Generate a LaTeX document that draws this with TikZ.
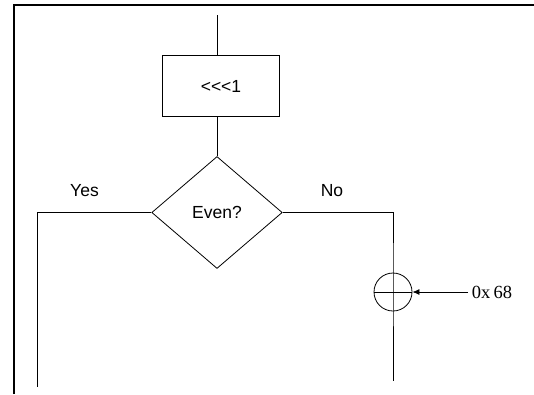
\documentclass[tikz,border=0pt]{standalone}
\usepackage{fontspec}
\setmainfont{Liberation Sans}
\newfontfamily\hexfont{Liberation Serif}
\usetikzlibrary{arrows.meta, shapes.geometric}

\begin{document}
\begin{tikzpicture}[
        x=1pt, y=-1pt,
        line width=0.8pt,
        op-box/.style={
            draw,
            rectangle,
            minimum width=117.5pt,
            minimum height=60.5pt,
            inner sep=0pt,
            font=\fontsize{17.5}{20}\selectfont,
        },
        test-diamond/.style={
            draw,
            diamond,
            minimum width=130.5pt,
            minimum height=112pt,
            inner sep=0pt,
            font=\fontsize{17.5}{20}\selectfont,
        },
        xor-circle/.style={
            draw,
            circle,
            minimum size=38pt,
            inner sep=0pt,
        },
        branch-label/.style={
            font=\fontsize{17.5}{20}\selectfont,
        },
    ]
    \useasboundingbox (0, 0) rectangle (534, 394);

    % page edge
    \draw[line width=1.5pt] (14, 394) -- (14, 5) -- (534, 5);

    \coordinate (entry) at (217, 15);
    \node[op-box] (rotate) at (221, 86) {{<}{<}{<}1};
    \node[test-diamond] (even) at (217, 212.5) {Even?};
    \node[xor-circle] (xor) at (393, 292) {};
    \node[font=\hexfont\fontsize{18.5}{20}\selectfont] (hex) at (492, 292) {0x\,68};

    \coordinate (yes-end) at (37.5, 387);
    \coordinate (no-end) at (393, 381);

    \draw (entry) -- (entry |- rotate.north);
    \draw (rotate.south -| even.north) -- (even.north);
    \draw (even.west) -| (yes-end);
    \draw (even.east) -| (xor.north) -- (no-end);
    \draw (xor.west) -- (xor.east);
    \draw[-{Latex[length=7pt, width=6pt]}] (hex) -- (xor);

    \node[branch-label] at (84.5, 191) {Yes};
    \node[branch-label] at (332, 191) {No};
\end{tikzpicture}
\end{document}
